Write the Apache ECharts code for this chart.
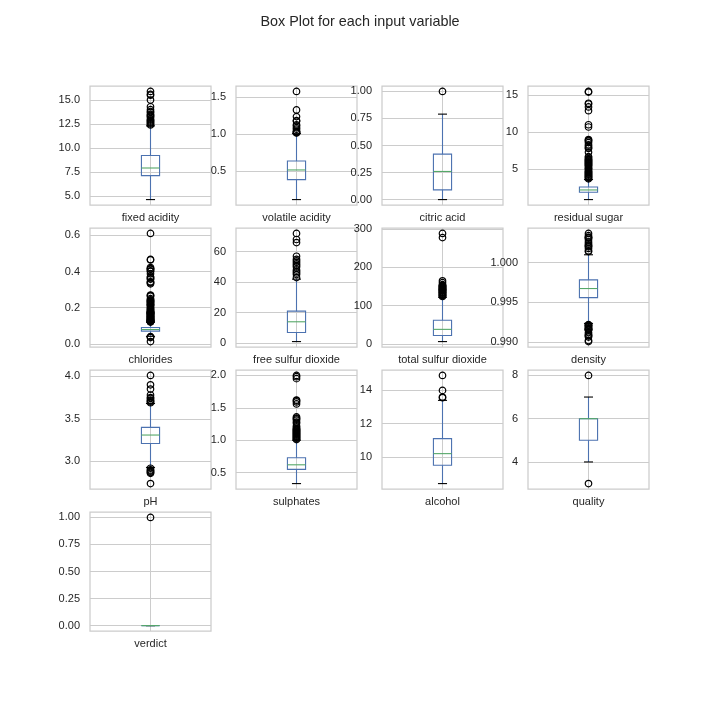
<!DOCTYPE html>
<html>
<head>
<meta charset="utf-8">
<script src="https://cdn.jsdelivr.net/npm/echarts@6/dist/echarts.min.js"></script>
<style>
  html, body { margin: 0; padding: 0; background: #fff; }
  #chart { width: 720px; height: 720px; }
</style>
</head>
<body>
<div id="chart"></div>
<script>
// one box per input variable (red wine data)
const names = ['fixed acidity', 'volatile acidity', 'citric acid', 'residual sugar',
  'chlorides', 'free sulfur dioxide', 'total sulfur dioxide', 'density',
  'pH', 'sulphates', 'alcohol', 'quality', 'verdict']

const whiskerLow = [4.6, 0.12, 0.0, 0.9, 0.041, 1, 6, 0.99236, 2.93, 0.33, 8.4, 4, 0]
const q1 = [7.1, 0.39, 0.09, 1.9, 0.07, 7, 22, 0.9956, 3.21, 0.55, 9.5, 5, 0]
const median = [7.9, 0.52, 0.26, 2.2, 0.079, 14, 38, 0.99675, 3.31, 0.62, 10.2, 6, 0]
const q3 = [9.2, 0.64, 0.42, 2.6, 0.09, 21, 62, 0.997835, 3.40, 0.73, 11.1, 6, 0]
const whiskerHigh = [12.3, 1.01, 0.79, 3.6, 0.119, 42, 122, 1.001, 3.68, 1.0, 13.4, 7, 0]

const outliers = [
  [12.4, 12.5, 12.6, 12.7, 12.8, 12.9, 13.0, 13.2, 13.3, 13.4, 13.5, 13.7, 13.8, 14.0, 14.3, 15.0, 15.5, 15.6, 15.9],
  [1.02, 1.025, 1.035, 1.04, 1.07, 1.09, 1.115, 1.13, 1.18, 1.185, 1.24, 1.33, 1.58],
  [1.0],
  [3.7, 3.8, 3.9, 4.0, 4.1, 4.2, 4.3, 4.4, 4.5, 4.6, 4.7, 4.8, 5.0, 5.1, 5.2, 5.4, 5.5, 5.6, 5.7, 5.8,
   5.9, 6.0, 6.1, 6.2, 6.3, 6.4, 6.6, 6.7, 7.3, 7.8, 7.9, 8.1, 8.3, 8.6, 8.8, 8.9, 9.0,
   10.7, 11.0, 12.9, 13.4, 13.8, 13.9, 15.4, 15.5],
  [0.012, 0.034, 0.038, 0.039,
   0.121, 0.122, 0.123, 0.124, 0.125, 0.126, 0.127, 0.128, 0.13, 0.132, 0.134, 0.136, 0.137, 0.14,
   0.143, 0.145, 0.147, 0.15, 0.152, 0.153, 0.157, 0.159, 0.161, 0.165, 0.166, 0.168, 0.169, 0.171,
   0.172, 0.174, 0.176, 0.178, 0.18, 0.186, 0.19, 0.194, 0.2, 0.205, 0.213, 0.214, 0.216, 0.222,
   0.226, 0.23, 0.235, 0.236, 0.241, 0.243, 0.25, 0.263, 0.267, 0.27,
   0.332, 0.337, 0.341, 0.343, 0.358, 0.36, 0.368, 0.369, 0.387, 0.401, 0.403, 0.413, 0.414,
   0.415, 0.422, 0.464, 0.467, 0.611],
  [43, 45, 46, 47, 48, 50, 51, 52, 53, 54, 55, 57, 66, 68, 72],
  [124, 126, 127, 128, 129, 131, 133, 134, 135, 136, 138, 139, 140, 141, 142, 143, 144, 145,
   147, 148, 149, 151, 152, 153, 155, 160, 165, 278, 289],
  [0.99007, 0.9902, 0.99064, 0.9908, 0.99084, 0.991, 0.9912, 0.99154, 0.99157, 0.9916, 0.99162,
   0.9917, 0.9918, 0.99191, 0.992, 0.99212, 0.99216, 0.9922,
   1.0014, 1.0015, 1.0018, 1.002, 1.0021, 1.0022, 1.0024, 1.0026, 1.0029, 1.0031, 1.00315,
   1.0032, 1.0034, 1.00369],
  [2.74, 2.86, 2.87, 2.88, 2.89, 2.9, 2.92, 3.69, 3.7, 3.71, 3.72, 3.74, 3.75, 3.78, 3.85, 3.9, 4.01],
  [1.01, 1.02, 1.03, 1.04, 1.05, 1.06, 1.07, 1.08, 1.09, 1.1, 1.11, 1.12, 1.13, 1.14, 1.15, 1.16,
   1.17, 1.18, 1.2, 1.22, 1.26, 1.28, 1.31, 1.33, 1.34, 1.36, 1.56, 1.59, 1.61, 1.62, 1.95, 1.98, 2.0],
  [13.56, 13.6, 14.0, 14.9],
  [3, 8],
  [1]
]

// y tick labels as printed on each panel
const tickLabels = [
  ['5.0', '7.5', '10.0', '12.5', '15.0'],
  ['0.5', '1.0', '1.5'],
  ['0.00', '0.25', '0.50', '0.75', '1.00'],
  ['5', '10', '15'],
  ['0.0', '0.2', '0.4', '0.6'],
  ['0', '20', '40', '60'],
  ['0', '100', '200', '300'],
  ['0.990', '0.995', '1.000'],
  ['3.0', '3.5', '4.0'],
  ['0.5', '1.0', '1.5', '2.0'],
  ['10', '12', '14'],
  ['4', '6', '8'],
  ['0.00', '0.25', '0.50', '0.75', '1.00']
]

const BLUE = '#4c72b0'
const GREEN = '#55a868'
const GRID = '#cccccc'
const TEXT = '#262626'
const FONT = 'Liberation Sans, Arial, sans-serif'

const colLeft = [90, 236, 382, 528]
const rowTop = [86, 228, 370, 512]

function renderBox(params, api) {
  let x = api.value(0)
  let lo = api.coord([x, api.value(1)])
  let b1 = api.coord([x, api.value(2)])
  let md = api.coord([x, api.value(3)])
  let b3 = api.coord([x, api.value(4)])
  let hi = api.coord([x, api.value(5)])
  let half = api.size([0.15, 0])[0] / 2
  let cap = half / 2
  let cx = lo[0]
  return {
    type: 'group',
    children: [
      { type: 'line', shape: { x1: cx, y1: lo[1], x2: cx, y2: b1[1] }, style: { stroke: BLUE, lineWidth: 1.1 } },
      { type: 'line', shape: { x1: cx, y1: b3[1], x2: cx, y2: hi[1] }, style: { stroke: BLUE, lineWidth: 1.1 } },
      { type: 'line', shape: { x1: cx - cap, y1: lo[1], x2: cx + cap, y2: lo[1] }, style: { stroke: '#000', lineWidth: 1.1 } },
      { type: 'line', shape: { x1: cx - cap, y1: hi[1], x2: cx + cap, y2: hi[1] }, style: { stroke: '#000', lineWidth: 1.1 } },
      { type: 'rect', shape: { x: cx - half, y: b3[1], width: half * 2, height: b1[1] - b3[1] },
        style: { fill: 'none', stroke: BLUE, lineWidth: 1.1 } },
      { type: 'line', shape: { x1: cx - half, y1: md[1], x2: cx + half, y2: md[1] }, style: { stroke: GREEN, lineWidth: 1.1 } }
    ]
  }
}

var chart = echarts.init(document.getElementById('chart'), null, { renderer: 'canvas' })

let grids = [], xAxes = [], yAxes = [], series = []
names.forEach((name, i) => {
  // matplotlib style autoscale: data range plus 5% each side
  let all = outliers[i].concat([whiskerLow[i], whiskerHigh[i]])
  let lo = Math.min(...all), hi = Math.max(...all)
  let pad = (hi - lo) * 0.05
  let ticks = tickLabels[i].map(Number)

  grids.push({
    left: colLeft[i % 4], top: rowTop[Math.floor(i / 4)], width: 121, height: 119,
    show: true, borderColor: GRID, borderWidth: 1.25, backgroundColor: 'transparent'
  })
  xAxes.push({
    gridIndex: i, type: 'value', min: 0.5, max: 1.5,
    axisLine: { show: false },
    axisTick: { show: false, customValues: [1] },
    axisLabel: { customValues: [1], formatter: () => name, margin: 7, fontSize: 11, color: TEXT, fontFamily: FONT },
    splitLine: { show: true, lineStyle: { color: GRID, width: 1 } }
  })
  yAxes.push({
    gridIndex: i, type: 'value', min: lo - pad, max: hi + pad,
    axisLine: { show: false },
    axisTick: { show: false, customValues: ticks },
    axisLabel: {
      customValues: ticks, margin: 10, fontSize: 11, color: TEXT, fontFamily: FONT,
      formatter: v => {
        let k = ticks.findIndex(t => Math.abs(t - v) < 1e-9)
        return k >= 0 ? tickLabels[i][k] : ''
      }
    },
    splitLine: { show: true, lineStyle: { color: GRID, width: 1 } }
  })
  series.push({
    type: 'custom', xAxisIndex: i, yAxisIndex: i, silent: true,
    renderItem: renderBox,
    encode: { x: 0, y: [1, 2, 3, 4, 5] },
    data: [[1, whiskerLow[i], q1[i], median[i], q3[i], whiskerHigh[i]]]
  })
  series.push({
    type: 'scatter', xAxisIndex: i, yAxisIndex: i, silent: true,
    symbol: 'circle', symbolSize: 6.5,
    itemStyle: { color: 'rgba(0,0,0,0)', borderColor: '#000', borderWidth: 1.2, opacity: 1 },
    data: outliers[i].map(v => [1, v])
  })
})

let option = {
  backgroundColor: '#fff',
  animation: false,
  title: {
    text: 'Box Plot for each input variable',
    left: 'center', top: 10,
    textStyle: { fontSize: 14.4, fontWeight: 'normal', color: TEXT, fontFamily: FONT }
  },
  grid: grids,
  xAxis: xAxes,
  yAxis: yAxes,
  series: series
}
chart.setOption(option)
</script>
</body>
</html>
